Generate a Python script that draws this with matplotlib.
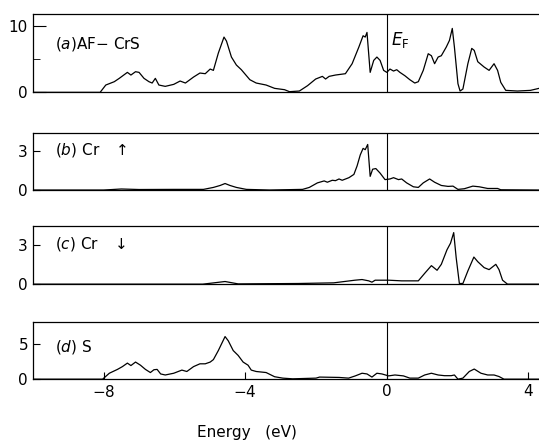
import matplotlib.pyplot as plt
import numpy as np

plt.rcParams.update({'font.size': 11, 'font.family': 'DejaVu Sans'})

# (a) total DOS of AF-CrS
E_a = [-10, -8.1, -7.94, -7.70, -7.56, -7.33, -7.23, -7.10, -7.0, -6.86, -6.72, -6.63, -6.54, -6.44,
       -6.26, -6.02, -5.84, -5.69, -5.46, -5.28, -5.13, -4.99, -4.9, -4.76, -4.6, -4.53, -4.39, -4.25,
       -4.11, -3.87, -3.69, -3.41, -3.17, -2.89, -2.75, -2.47, -2.24, -2.01, -1.82, -1.73, -1.63, -1.45,
       -1.17, -0.98, -0.79, -0.67, -0.61, -0.56, -0.47, -0.37, -0.28, -0.19, -0.09, 0, 0.09, 0.19, 0.28,
       0.37, 0.51, 0.65, 0.79, 0.89, 1.03, 1.17, 1.26, 1.35, 1.45, 1.54, 1.68, 1.77, 1.85, 1.91, 2.01,
       2.07, 2.15, 2.29, 2.40, 2.47, 2.57, 2.75, 2.89, 3.03, 3.13, 3.22, 3.36, 3.69, 4.06, 4.3]
dos_a = [0, 0, 1.1, 1.6, 2.1, 3.0, 2.6, 3.1, 3.0, 2.1, 1.6, 1.4, 2.1, 1.1,
         0.9, 1.2, 1.7, 1.4, 2.3, 2.9, 2.8, 3.5, 3.3, 5.9, 8.3, 7.7, 5.3, 4.1,
         3.4, 1.9, 1.4, 1.1, 0.6, 0.4, 0.1, 0.2, 1.0, 2.0, 2.4, 2.0, 2.4, 2.6,
         2.8, 4.3, 6.8, 8.5, 8.3, 9.0, 3.0, 4.8, 5.3, 4.8, 3.3, 3.0, 3.5, 3.2, 3.4,
         3.0, 2.5, 1.9, 1.4, 1.6, 3.3, 5.8, 5.5, 4.3, 5.3, 5.5, 6.8, 7.8, 9.6, 6.8, 1.3,
         0.2, 0.5, 4.3, 6.6, 6.3, 4.6, 3.8, 3.3, 4.3, 3.3, 1.5, 0.3, 0.2, 0.3, 0.6]

# (b) Cr spin up
E_b = [-10, -8.0, -7.5, -7.0, -6.0, -5.18, -4.9, -4.71, -4.57, -4.43, -4.25, -3.97, -3.31, -2.38,
       -2.19, -1.96, -1.77, -1.68, -1.54, -1.45, -1.35, -1.26, -1.07, -0.93, -0.84, -0.75, -0.67,
       -0.61, -0.54, -0.47, -0.40, -0.31, -0.19, -0.05, 0.09, 0.19, 0.33, 0.42, 0.56, 0.75, 0.89,
       1.03, 1.21, 1.35, 1.54, 1.73, 1.87, 2.01, 2.19, 2.43, 2.61, 2.85, 3.13, 3.22, 4.3]
dos_b = [0, 0, 0.08, 0.04, 0.05, 0.05, 0.2, 0.35, 0.5, 0.35, 0.2, 0.05, 0, 0.05,
         0.2, 0.55, 0.7, 0.6, 0.75, 0.72, 0.85, 0.75, 0.95, 1.2, 1.85, 2.7, 3.2,
         3.1, 3.5, 1.05, 1.6, 1.65, 1.3, 0.8, 0.85, 0.95, 0.8, 0.85, 0.55, 0.25, 0.2,
         0.55, 0.85, 0.6, 0.35, 0.28, 0.3, 0.05, 0.1, 0.3, 0.25, 0.12, 0.12, 0.02, 0]

# (c) Cr spin down
E_c = [-10, -5.2, -4.57, -4.2, -2.5, -1.5, -0.9, -0.7, -0.51, -0.42, -0.33, 0.05, 0.42, 0.89,
       1.08, 1.26, 1.42, 1.54, 1.70, 1.80, 1.89, 1.96, 2.05, 2.15, 2.29, 2.46, 2.57, 2.75, 2.89,
       3.08, 3.17, 3.27, 3.41, 4.3]
dos_c = [0, 0, 0.2, 0.02, 0.05, 0.1, 0.3, 0.35, 0.25, 0.15, 0.3, 0.3, 0.25, 0.25,
         0.85, 1.4, 1.05, 1.5, 2.6, 3.1, 3.9, 2.0, 0.05, 0.05, 1.0, 2.05, 1.7, 1.25, 1.1,
         1.5, 1.1, 0.3, 0, 0]

# (d) S
E_d = [-10, -8.03, -7.84, -7.61, -7.47, -7.33, -7.23, -7.10, -6.96, -6.82, -6.68, -6.58, -6.49,
       -6.39, -6.26, -6.02, -5.79, -5.65, -5.46, -5.28, -5.13, -4.99, -4.90, -4.76, -4.57, -4.48,
       -4.34, -4.20, -4.06, -3.92, -3.83, -3.69, -3.41, -3.17, -2.94, -2.66, -2.0, -1.9, -1.35,
       -1.08, -0.89, -0.70, -0.56, -0.42, -0.28, -0.14, 0.05, 0.23, 0.47, 0.65, 0.89, 1.07, 1.26,
       1.45, 1.63, 1.82, 1.91, 2.01, 2.15, 2.33, 2.47, 2.66, 2.85, 3.03, 3.17, 3.31, 4.3]
dos_d = [0, 0, 0.85, 1.4, 1.8, 2.3, 1.95, 2.45, 2.0, 1.4, 0.95, 1.35, 1.4,
         0.75, 0.6, 0.85, 1.3, 1.1, 1.8, 2.2, 2.2, 2.45, 2.8, 4.1, 6.1, 5.5,
         4.1, 3.4, 2.45, 2.0, 1.3, 1.1, 0.95, 0.35, 0.15, 0.05, 0.15, 0.3, 0.25,
         0.15, 0.47, 0.85, 0.75, 0.3, 0.85, 0.75, 0.47, 0.6, 0.47, 0.15, 0.15, 0.6, 0.85,
         0.6, 0.5, 0.5, 0.6, 0, 0.15, 1.1, 1.45, 0.85, 0.6, 0.6, 0.38, 0, 0]

energies = [E_a, E_b, E_c, E_d]
dos = [dos_a, dos_b, dos_c, dos_d]
ylims = [11.8, 4.4, 4.4, 8.2]
yticks = [[0, 10], [0, 3], [0, 3], [0, 5]]
labels = [r'($\it{a}$)AF$-$ CrS', r'($\it{b}$) Cr   $\uparrow$', r'($\it{c}$) Cr   $\downarrow$', r'($\it{d}$) S']
label_y = [0.62, 0.70, 0.69, 0.56]

# axes boxes [left, bottom, width, height] in figure fractions
boxes = [[0.061, 0.792, 0.939, 0.177],
         [0.061, 0.572, 0.939, 0.129],
         [0.061, 0.360, 0.939, 0.131],
         [0.061, 0.146, 0.939, 0.129]]

fig = plt.figure(figsize=(5.39, 4.44), dpi=100)
for i in range(4):
    ax = fig.add_axes(boxes[i])
    ax.plot(energies[i], dos[i], color='black', lw=0.9)
    ax.axvline(0, color='black', lw=0.8)
    ax.set_xlim(-10, 4.3)
    ax.set_ylim(0, ylims[i])
    ax.set_yticks(yticks[i])
    ax.tick_params(direction='in', length=5, width=0.8)
    ax.spines['right'].set_visible(False)
    for s in ['left', 'top', 'bottom']:
        ax.spines[s].set_linewidth(0.9)
    if i < 3:
        ax.set_xticks([])
    else:
        ax.set_xticks([-8, -4, 0, 4])
        ax.set_xticklabels(['$-$8', '$-$4', '0', '4'])
    ax.text(0.043, label_y[i], labels[i], transform=ax.transAxes, fontsize=11, va='center')
    if i == 0:
        ax.set_yticks([5], minor=True)
        ax.tick_params(which='major', axis='y', length=9)
        ax.tick_params(which='minor', direction='in', length=5)
        ax.text(0.12, 7.8, r'$E_{\rm F}$', fontsize=12, va='center')

fig.text(0.458, 0.027, 'Energy   (eV)', ha='center', va='center', fontsize=11)
fig.savefig('out.png', dpi=100)
